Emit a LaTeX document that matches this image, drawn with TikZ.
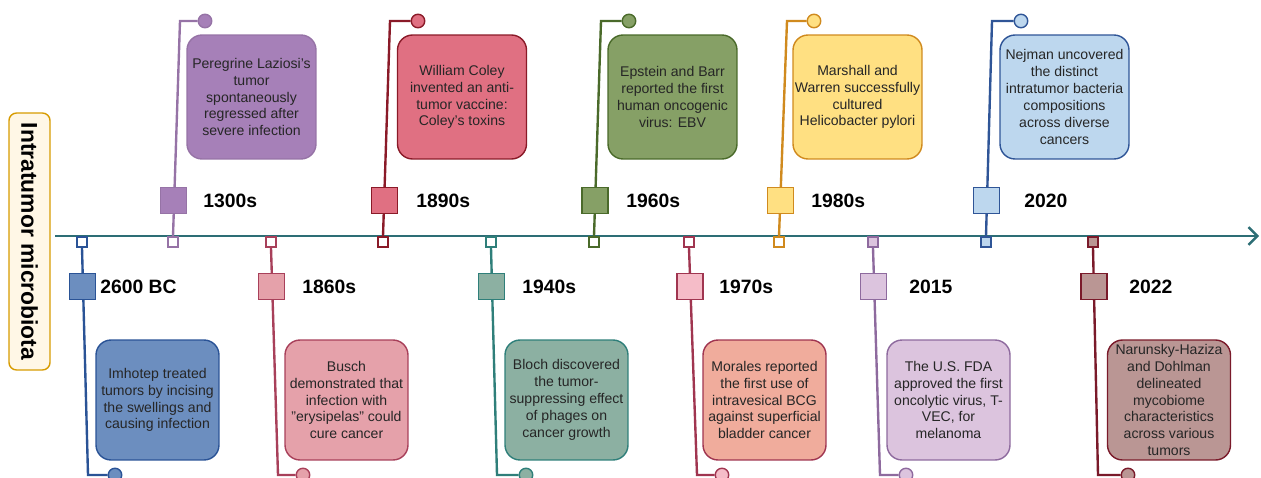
\documentclass[tikz,border=0pt]{standalone}
\usepackage{fontspec}
\setmainfont{Liberation Sans}
\usetikzlibrary{arrows.meta}

\definecolor{axisteal}{HTML}{2D6E75}
\definecolor{titlefill}{HTML}{FFF7E6}
\definecolor{titleline}{HTML}{D79B00}
% top events
\definecolor{c1300}{HTML}{A680B8}  \definecolor{c1300line}{HTML}{9673A6}
\definecolor{c1890}{HTML}{E07082}  \definecolor{c1890line}{HTML}{8A1A28}
\definecolor{c1960}{HTML}{86A066}  \definecolor{c1960line}{HTML}{4A6A2A}
\definecolor{c1980}{HTML}{FFE082}  \definecolor{c1980line}{HTML}{D08A1E}
\definecolor{c2020}{HTML}{BDD7EE}  \definecolor{c2020line}{HTML}{2F5597}
% bottom events
\definecolor{c2600}{HTML}{6C8EBF}  \definecolor{c2600line}{HTML}{2A5396}
\definecolor{c1860}{HTML}{E5A1AA}  \definecolor{c1860line}{HTML}{A8405A}
\definecolor{c1940}{HTML}{8CB0A2}  \definecolor{c1940line}{HTML}{2F7F7A}
\definecolor{c1970}{HTML}{F5BCC8}  \definecolor{c1970box}{HTML}{F0AC9C}
\definecolor{c1970line}{HTML}{A03550}
\definecolor{c2015}{HTML}{DCC4DE}  \definecolor{c2015line}{HTML}{8E6A9E}
\definecolor{c2022}{HTML}{BA9694}  \definecolor{c2022line}{HTML}{7A1A2A}

\begin{document}
\begin{tikzpicture}[x=0.02cm,y=-0.02cm,
    tick/.style={draw,fill=white,line width=1.2pt,minimum size=0.19cm,inner sep=0pt},
    yearbox/.style={draw,line width=0.9pt,minimum size=0.52cm,inner sep=0pt},
    yearlabel/.style={anchor=west,inner sep=0pt,font=\fontsize{11}{13}\selectfont\bfseries},
    eventbox/.style={draw,line width=0.8pt,rounded corners=0.3cm,align=center,inner sep=0pt,
        text=black!85,font=\fontsize{8}{9.6}\selectfont},
    topbox/.style={eventbox,minimum width=2.58cm,minimum height=2.48cm},
    lowbox/.style={eventbox,minimum width=2.46cm,minimum height=2.4cm},
    dot/.style={circle,draw,line width=0.8pt,minimum size=0.27cm,inner sep=0pt},
    link/.style={line width=1.35pt},
    titlebox/.style={draw=titleline,fill=titlefill,line width=0.8pt,rounded corners=0.15cm,
        rotate=-90,minimum width=5.14cm,minimum height=0.82cm,
        font=\fontsize{13}{15}\selectfont\bfseries}]
    \useasboundingbox (0,0) rectangle (1261,477);

    \node[titlebox] (title) at (29.5,241.5) {Intratumor microbiota};

    % time axis
    \coordinate (axisstart) at (55,236);
    \coordinate (axisend) at (1259,236);
    \draw[axisteal,line width=1.4pt,-{Straight Barb[length=5pt,width=10pt]}] (axisstart) -- (axisend);

    % 1300s
    \node[tick,draw=c1300line] (t1300) at (173,242) {};
    \node[dot,draw=c1300line,fill=c1300] (d1300) at (205,21) {};
    \coordinate (k1300) at (180,21);
    \draw[link,c1300line] (t1300.north) -- (k1300) -- (d1300.west);
    \node[yearbox,draw=c1300line,fill=c1300] (s1300) at (173.5,200.5) {};
    \node[yearlabel] (l1300) at (203,201) {1300s};
    \node[topbox,draw=c1300line,fill=c1300] (b1300) at (251.5,97) {Peregrine Laziosi's\\tumor\\spontaneously\\regressed after\\severe infection};

    % 1890s
    \node[tick,draw=c1890line] (t1890) at (383,242) {};
    \node[dot,draw=c1890line,fill=c1890] (d1890) at (418,21) {};
    \coordinate (k1890) at (390,21);
    \draw[link,c1890line] (t1890.north) -- (k1890) -- (d1890.west);
    \node[yearbox,draw=c1890line,fill=c1890] (s1890) at (384.5,200.5) {};
    \node[yearlabel] (l1890) at (416,201) {1890s};
    \node[topbox,draw=c1890line,fill=c1890] (b1890) at (462,97) {William Coley\\invented an anti-\\tumor vaccine:\\Coley's toxins};

    % 1960s
    \node[tick,draw=c1960line] (t1960) at (594,242) {};
    \node[dot,draw=c1960line,fill=c1960] (d1960) at (629,21) {};
    \coordinate (k1960) at (601,21);
    \draw[link,c1960line] (t1960.north) -- (k1960) -- (d1960.west);
    \node[yearbox,draw=c1960line,fill=c1960] (s1960) at (595,200.5) {};
    \node[yearlabel] (l1960) at (626,201) {1960s};
    \node[topbox,draw=c1960line,fill=c1960] (b1960) at (672.5,97) {Epstein and Barr\\reported the first\\human oncogenic\\virus: EBV};

    % 1980s
    \node[tick,draw=c1980line] (t1980) at (779,242) {};
    \node[dot,draw=c1980line,fill=c1980] (d1980) at (814,21) {};
    \coordinate (k1980) at (787,21);
    \draw[link,c1980line] (t1980.north) -- (k1980) -- (d1980.west);
    \node[yearbox,draw=c1980line,fill=c1980] (s1980) at (780.5,200.5) {};
    \node[yearlabel] (l1980) at (811,201) {1980s};
    \node[topbox,draw=c1980line,fill=c1980] (b1980) at (857.5,97) {Marshall and\\Warren successfully\\cultured\\Helicobacter pylori};

    % 2020
    \node[tick,draw=c2020line,fill=c2020] (t2020) at (986,242) {};
    \node[dot,draw=c2020line,fill=c2020] (d2020) at (1021,21) {};
    \coordinate (k2020) at (992,21);
    \draw[link,c2020line] (t2020.north) -- (k2020) -- (d2020.west);
    \node[yearbox,draw=c2020line,fill=c2020] (s2020) at (986.5,200.5) {};
    \node[yearlabel] (l2020) at (1024,201) {2020};
    \node[topbox,draw=c2020line,fill=c2020] (b2020) at (1064.5,97) {Nejman uncovered\\the distinct\\intratumor bacteria\\compositions\\across diverse\\cancers};

    % 2600 BC
    \node[tick,draw=c2600line] (t2600) at (82,242) {};
    \node[dot,draw=c2600line,fill=c2600] (d2600) at (115,475) {};
    \coordinate (k2600) at (88,475);
    \draw[link,c2600line] (t2600.south) -- (k2600) -- (d2600.west);
    \node[yearbox,draw=c2600line,fill=c2600] (s2600) at (82.5,286.5) {};
    \node[yearlabel] (l2600) at (100,287) {2600 BC};
    \node[lowbox,draw=c2600line,fill=c2600] (b2600) at (157.5,400) {Imhotep treated\\tumors by incising\\the swellings and\\causing infection};

    % 1860s
    \node[tick,draw=c1860line] (t1860) at (271,242) {};
    \node[dot,draw=c1860line,fill=c1860] (d1860) at (303,475) {};
    \coordinate (k1860) at (278,475);
    \draw[link,c1860line] (t1860.south) -- (k1860) -- (d1860.west);
    \node[yearbox,draw=c1860line,fill=c1860] (s1860) at (271.5,286.5) {};
    \node[yearlabel] (l1860) at (302,287) {1860s};
    \node[lowbox,draw=c1860line,fill=c1860] (b1860) at (346.5,400) {Busch\\demonstrated that\\infection with\\"erysipelas" could\\cure cancer};

    % 1940s
    \node[tick,draw=c1940line] (t1940) at (491,242) {};
    \node[dot,draw=c1940line,fill=c1940] (d1940) at (526,475) {};
    \coordinate (k1940) at (497,475);
    \draw[link,c1940line] (t1940.south) -- (k1940) -- (d1940.west);
    \node[yearbox,draw=c1940line,fill=c1940] (s1940) at (491.5,286.5) {};
    \node[yearlabel] (l1940) at (522,287) {1940s};
    \node[lowbox,draw=c1940line,fill=c1940] (b1940) at (566.5,400) {Bloch discovered\\the tumor-\\suppressing effect\\of phages on\\cancer growth};

    % 1970s
    \node[tick,draw=c1970line] (t1970) at (689,242) {};
    \node[dot,draw=c1970line,fill=c1970] (d1970) at (722,475) {};
    \coordinate (k1970) at (697,475);
    \draw[link,c1970line] (t1970.south) -- (k1970) -- (d1970.west);
    \node[yearbox,draw=c1970line,fill=c1970] (s1970) at (690,286.5) {};
    \node[yearlabel] (l1970) at (719,287) {1970s};
    \node[lowbox,draw=c1970line,fill=c1970box] (b1970) at (764.5,400) {Morales reported\\the first use of\\intravesical BCG\\against superficial\\bladder cancer};

    % 2015
    \node[tick,draw=c2015line,fill=c2015] (t2015) at (873,242) {};
    \node[dot,draw=c2015line,fill=c2015] (d2015) at (906,475) {};
    \coordinate (k2015) at (880,475);
    \draw[link,c2015line] (t2015.south) -- (k2015) -- (d2015.west);
    \node[yearbox,draw=c2015line,fill=c2015] (s2015) at (873.5,286.5) {};
    \node[yearlabel] (l2015) at (909,287) {2015};
    \node[lowbox,draw=c2015line,fill=c2015] (b2015) at (948.5,400) {The U.S. FDA\\approved the first\\oncolytic virus, T-\\VEC, for\\melanoma};

    % 2022
    \node[tick,draw=c2022line,fill=c2022] (t2022) at (1093,242) {};
    \node[dot,draw=c2022line,fill=c2022] (d2022) at (1128,475) {};
    \coordinate (k2022) at (1098,475);
    \draw[link,c2022line] (t2022.south) -- (k2022) -- (d2022.west);
    \node[yearbox,draw=c2022line,fill=c2022] (s2022) at (1094,286.5) {};
    \node[yearlabel] (l2022) at (1129,287) {2022};
    \node[lowbox,draw=c2022line,fill=c2022] (b2022) at (1169,400) {Narunsky-Haziza\\and Dohlman\\delineated\\mycobiome\\characteristics\\across various\\tumors};
\end{tikzpicture}
\end{document}
